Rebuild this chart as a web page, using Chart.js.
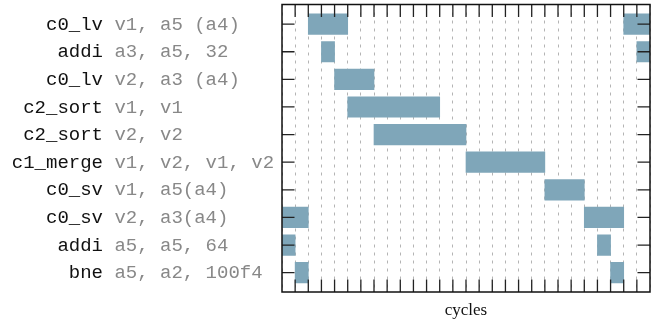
<!DOCTYPE html>
<html><head><meta charset="utf-8">
<script src="https://cdn.jsdelivr.net/npm/chart.js@4"></script>
<style>html,body{margin:0;padding:0;background:#fff}</style>
</head><body>
<canvas id="c" width="654" height="323" style="display:block;width:654px;height:323px"></canvas>
<script>
// ---- data ----
const mnemonics = ['c0_lv', 'addi', 'c0_lv', 'c2_sort', 'c2_sort', 'c1_merge', 'c0_sv', 'c0_sv', 'addi', 'bne'];
const operands  = ['v1, a5 (a4)', 'a3, a5, 32', 'v2, a3 (a4)', 'v1, v1', 'v2, v2', 'v1, v2, v1, v2', 'v1, a5(a4)', 'v2, a3(a4)', 'a5, a5, 64', 'a5, a2, 100f4'];
const barRow    = [0, 0, 1, 1, 2, 3, 4, 5, 6, 7, 7, 8, 8, 9, 9];
const barStart  = [2, 26, 3, 27, 4, 5, 7, 14, 20, 0, 23, 0, 24, 1, 25];
const barEnd    = [5, 28, 4, 28, 7, 12, 14, 20, 23, 2, 26, 1, 25, 2, 26];
const cycleMin = 0, cycleMax = 28;
const axisTitle = 'cycles';

const barData = barRow.map((r, i) => ({ x: [barStart[i], barEnd[i]], y: r }));

const TL = 12.5;
const LABEL_X = 103;
const decor = {
  id: 'decor',
  afterDraw(chart) {
    const { ctx, chartArea: a, scales: { x, y } } = chart;
    ctx.save();
    ctx.strokeStyle = '#222';
    ctx.lineWidth = 1.3;
    ctx.beginPath();
    for (let c = cycleMin + 1; c < cycleMax; c++) {
      const px = x.getPixelForValue(c);
      ctx.moveTo(px, a.top); ctx.lineTo(px, a.top + TL);
      ctx.moveTo(px, a.bottom); ctx.lineTo(px, a.bottom - TL);
    }
    mnemonics.forEach((m, i) => {
      const py = y.getPixelForValue(i);
      ctx.moveTo(a.left, py); ctx.lineTo(a.left + TL, py);
      ctx.moveTo(a.right, py); ctx.lineTo(a.right - TL, py);
    });
    ctx.stroke();
    ctx.lineWidth = 1.5;
    ctx.strokeStyle = '#111';
    ctx.strokeRect(a.left, a.top, a.right - a.left, a.bottom - a.top);
    ctx.font = '19px "Liberation Mono"';
    ctx.textBaseline = 'alphabetic';
    const cw = ctx.measureText('M').width;
    mnemonics.forEach((m, i) => {
      const py = y.getPixelForValue(i) + 5.6;
      ctx.textAlign = 'right'; ctx.fillStyle = '#111';
      ctx.fillText(m, LABEL_X, py);
      ctx.textAlign = 'left'; ctx.fillStyle = '#888';
      ctx.fillText(operands[i], LABEL_X + cw, py);
    });
    ctx.restore();
  }
};

new Chart(document.getElementById('c'), {
  type: 'bar',
  data: {
    datasets: [{
      data: barData,
      backgroundColor: '#7fa6b9',
      borderWidth: 0,
      barThickness: 20.5
    }]
  },
  options: {
    indexAxis: 'y',
    responsive: false,
    animation: false,
    events: [],
    layout: { padding: { left: 282, right: 4, top: 4.5, bottom: 0 } },
    plugins: { legend: { display: false }, tooltip: { enabled: false } },
    scales: {
      y: {
        type: 'linear', display: false, reverse: true, min: -0.71, max: 9.7,
        offset: false, grid: { offset: false }
      },
      x: {
        type: 'linear', min: cycleMin, max: cycleMax, offset: false, z: 1,
        ticks: { display: false, stepSize: 1 },
        grid: { color: '#b4b4b4', lineWidth: 1, drawTicks: false, offset: false },
        border: { display: false, dash: [3, 5] },
        title: {
          display: true, text: axisTitle, color: '#111',
          font: { family: '"Liberation Serif"', size: 17 },
          padding: { top: 8.8, bottom: 1.8 }
        }
      }
    }
  },
  plugins: [decor]
});
</script>
</body></html>
